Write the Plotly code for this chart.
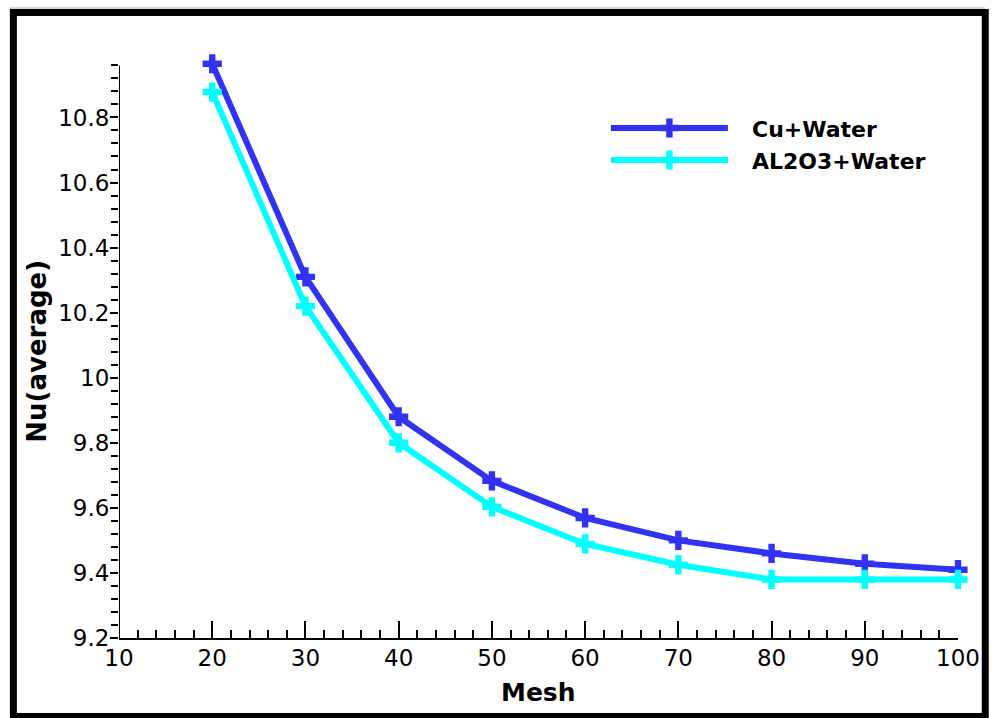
import plotly.graph_objects as go

# Mesh study: averaged Nusselt number for two nanofluids
mesh = [20, 30, 40, 50, 60, 70, 80, 90, 100]
nu_cu_water = [10.965, 10.31, 9.88, 9.683, 9.569, 9.50, 9.46, 9.428, 9.41]
nu_al2o3_water = [10.878, 10.22, 9.80, 9.603, 9.489, 9.425, 9.38, 9.38, 9.38]

series_names = ["Cu+Water", "AL2O3+Water"]
series_colors = ["#3232F5", "#00FFFF"]

y_tickvals = [9.2, 9.4, 9.6, 9.8, 10.0, 10.2, 10.4, 10.6, 10.8]
y_ticktext = ["9.2", "9.4", "9.6", "9.8", "10", "10.2", "10.4", "10.6", "10.8"]
x_tickvals = [10, 20, 30, 40, 50, 60, 70, 80, 90, 100]

Y_MIN, Y_AXIS_TOP, Y_VIEW_TOP = 9.2, 10.96, 10.995

W, H = 992, 718
PX_PER_UNIT = 325.6
ML, MR, MB = 119, 27, 80
MT = round(H - MB - (Y_VIEW_TOP - Y_MIN) * PX_PER_UNIT)
PW, PH = W - ML - MR, H - MT - MB

FONT = "DejaVu Sans"

fig = go.Figure()

for name, vals, color in zip(series_names, [nu_cu_water, nu_al2o3_water], series_colors):
    fig.add_trace(go.Scatter(
        x=mesh, y=vals, name=name, mode="lines+markers",
        line=dict(color=color, width=6),
        marker=dict(symbol="cross", size=16, color=color, line=dict(width=0)),
        cliponaxis=False, showlegend=False,
    ))

# Custom legend drawn on a pixel-based overlay axis
legend_x0, legend_x1 = 615, 733
legend_rows = [128, 160]
for name, color, ly in zip(series_names, series_colors, legend_rows):
    fig.add_trace(go.Scatter(
        x=[legend_x0, (legend_x0 + legend_x1) / 2, legend_x1], y=[ly, ly, ly],
        mode="lines", line=dict(color=color, width=6),
        xaxis="x2", yaxis="y2", showlegend=False, hoverinfo="skip",
    ))
    fig.add_trace(go.Scatter(
        x=[(legend_x0 + legend_x1) / 2], y=[ly],
        mode="markers", marker=dict(symbol="cross", size=16, color=color, line=dict(width=0)),
        xaxis="x2", yaxis="y2", showlegend=False, hoverinfo="skip", cliponaxis=False,
    ))
    fig.add_annotation(
        x=755, y=ly + 1, xref="x2", yref="y2", text=f"<b>{name}</b>",
        showarrow=False, xanchor="left", yanchor="middle",
        font=dict(family=FONT, size=22, color="black"),
    )


def px_x(p):
    return (p - ML) / PW


def px_y(p):
    return (H - MB - p) / PH


# Axis titles
fig.add_annotation(x=0.5, y=px_y(692), xref="paper", yref="paper", text="<b>Mesh</b>",
                   showarrow=False, xanchor="center", yanchor="middle",
                   font=dict(family=FONT, size=25, color="black"))
fig.add_annotation(x=px_x(36), y=px_y(351), xref="paper", yref="paper", text="<b>Nu(average)</b>",
                   showarrow=False, xanchor="center", yanchor="middle", textangle=-90,
                   font=dict(family=FONT, size=26, color="black"))

# Vertical axis line stops at the last minor tick
fig.add_shape(type="line", xref="x", yref="y", x0=10, x1=10, y0=Y_MIN, y1=Y_AXIS_TOP,
              line=dict(color="black", width=2), layer="above")

# Outer frame
fig.add_shape(type="rect", xref="paper", yref="paper",
              x0=px_x(12.5), x1=px_x(992.5), y0=px_y(716.5), y1=px_y(12.5),
              line=dict(color="black", width=7), fillcolor="rgba(0,0,0,0)", layer="above")
fig.add_shape(type="line", xref="paper", yref="paper",
              x0=px_x(9), x1=px_x(992), y0=px_y(8), y1=px_y(8),
              line=dict(color="#b0b0b0", width=1))

fig.update_layout(
    width=W, height=H,
    margin=dict(l=ML, r=MR, t=MT, b=MB, pad=0),
    paper_bgcolor="white", plot_bgcolor="white",
    font=dict(family=FONT, size=23, color="black"),
    xaxis=dict(
        range=[10, 100], tickvals=x_tickvals, showgrid=False, zeroline=False,
        showline=True, linecolor="black", linewidth=2,
        ticks="inside", ticklen=17, tickwidth=2, tickcolor="black",
        minor=dict(dtick=2, ticks="inside", ticklen=8, tickwidth=1.5, tickcolor="black"),
        tickfont=dict(family=FONT, size=23), ticklabelstandoff=-2,
    ),
    yaxis=dict(
        range=[Y_MIN, Y_VIEW_TOP], tickvals=y_tickvals, ticktext=y_ticktext,
        showgrid=False, zeroline=False, showline=False,
        ticks="outside", ticklen=8, tickwidth=2, tickcolor="black",
        minor=dict(dtick=0.04, tick0=9.2, ticks="outside", ticklen=7, tickwidth=1.5, tickcolor="black"),
        tickfont=dict(family=FONT, size=23), ticklabelstandoff=-4,
    ),
    xaxis2=dict(range=[ML, W - MR], overlaying="x", visible=False, fixedrange=True),
    yaxis2=dict(range=[H - MB, MT], overlaying="y", visible=False, fixedrange=True),
    showlegend=False,
)

fig.write_html("out.html")
